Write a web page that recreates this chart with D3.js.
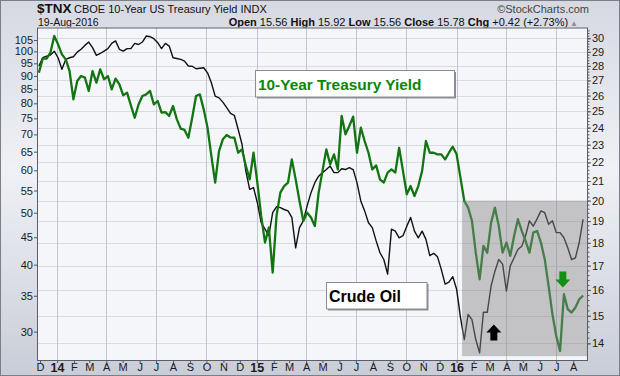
<!DOCTYPE html>
<html>
<head>
<meta charset="utf-8">
<script src="https://cdn.jsdelivr.net/npm/d3@7"></script>
<style>
  body { margin: 0; background: #fff; }
  svg { display: block; font-family: "Liberation Sans", Arial, sans-serif; }
</style>
</head>
<body>
<svg id="chart" width="620" height="376"></svg>
<script>
//
// Data (weekly closes)
//

// one point per Friday, 29-Nov-2013 .. 19-Aug-2016
var weeks = d3.timeFriday.range(new Date(2013, 10, 29), new Date(2016, 7, 20))

// crude oil ($WTIC), left axis
var oil = [
  93.9, 97.3, 98.0, 98.4, 100.1, 97.3, 92.6, 96.6, 97.3, 97.7,
  99.7, 100.9, 102.6, 104.1, 101.6, 98.3, 99.1, 100.1, 101.2, 103.5,
  104.6, 100.9, 100.1, 101.2, 101.2, 103.5, 103.0, 104.1, 106.8, 106.5,
  105.6, 103.8, 101.2, 103.5, 102.3, 97.3, 97.0, 96.6, 95.9, 93.9,
  93.8, 92.8, 93.0, 93.2, 91.2, 87.4, 82.5, 81.9, 80.4, 78.5,
  76.6, 76.0, 71.5, 67.1, 59.8, 55.3, 55.7, 52.2, 47.9, 46.6,
  45.3, 50.0, 51.3, 51.1, 50.7, 50.4, 49.0, 43.0, 46.9, 48.3,
  51.5, 54.5, 56.9, 58.5, 59.4, 60.2, 61.1, 59.4, 59.4, 60.4,
  60.2, 60.7, 60.2, 56.9, 52.6, 50.4, 47.9, 46.9, 44.3, 42.1,
  40.9, 38.4, 46.6, 46.2, 44.9, 45.3, 47.2, 49.0, 46.2, 44.9,
  46.2, 44.6, 41.6, 42.0, 41.4, 39.2, 36.8, 37.1, 38.0, 36.0,
  31.9, 29.0, 32.3, 31.6, 29.0, 27.4, 32.6, 32.6, 36.5, 38.9,
  40.9, 40.1, 35.7, 39.8, 41.2, 42.7, 43.3, 45.3, 48.3, 47.2,
  48.7, 50.4, 50.0, 47.6, 48.3, 45.9, 45.9, 44.9, 43.0, 40.9,
  41.2, 44.0, 48.6
]

// $TNX (10-year yield x10), right axis
var tnx = [
  27.53, 28.53, 28.51, 28.94, 30.17, 29.55, 28.82, 28.46, 27.64, 25.76,
  26.96, 27.30, 27.19, 26.30, 27.64, 26.85, 27.76, 27.08, 27.30, 26.41,
  27.12, 26.74, 26.01, 26.19, 25.37, 24.60, 25.43, 25.97, 26.08, 26.30,
  25.43, 25.65, 24.91, 24.95, 24.71, 25.33, 24.50, 23.94, 23.86, 23.40,
  24.60, 25.97, 26.08, 25.12, 24.00, 22.36, 20.92, 22.63, 23.31, 23.56,
  23.42, 23.40, 22.54, 22.73, 21.81, 21.09, 22.54, 20.92, 19.25, 18.01,
  18.70, 16.71, 19.25, 20.40, 20.74, 20.92, 22.17, 21.09, 19.98, 19.01,
  19.41, 19.17, 18.77, 20.40, 21.54, 22.73, 21.90, 22.45, 21.62, 24.71,
  23.60, 24.10, 24.67, 22.54, 24.00, 23.21, 22.54, 21.62, 21.84, 21.09,
  20.92, 21.45, 21.62, 21.45, 22.82, 21.54, 20.32, 20.74, 20.23, 20.74,
  21.54, 23.21, 22.54, 22.54, 22.45, 22.45, 22.17, 22.54, 22.88, 22.45,
  21.18, 19.98, 19.65, 19.01, 17.56, 16.43, 17.86, 17.56, 18.93, 19.65,
  18.77, 17.56, 18.01, 17.42, 18.31, 19.09, 18.54, 18.08, 17.56, 18.46,
  18.54, 18.01, 17.27, 16.16, 15.06, 14.26, 13.74, 15.83, 15.25, 15.12,
  15.31, 15.63, 15.78
]

// axis ticks
var oilTicks = [30, 35, 40, 45, 50, 55, 60, 65, 70, 75, 80, 85, 90, 95, 100, 105]
var tnxTicks = [14, 15, 16, 17, 18, 19, 20, 21, 22, 23, 24, 25, 26, 27, 28, 29, 30]
var monthLetters = ['J', 'F', 'M', 'A', 'M', 'J', 'J', 'A', 'S', 'O', 'N', 'D']

// annotations
var shadeStart = new Date(2016, 0, 11)
var shadeTop = 20
var upArrow = { date: new Date(2016, 2, 9), value: 14.1 }
var downArrow = { date: new Date(2016, 6, 13), value: 16.1 }

//
// Configuration
//

var W = 620, H = 376
var plot = { l: 37, t: 27.5, r: 588, b: 360 }
var colorOil = '#111'
var colorYield = '#127512'
var colorGrid = '#d9dbe3'
var colorVGrid = '#c3c6d0'

//
// Scales
//

var svg = d3.select('#chart')

var x = d3.scaleTime()
  .domain([new Date(2013, 10, 25, 12), new Date(2016, 7, 28)])
  .range([plot.l, plot.r])

var yOil = d3.scaleLog()
  .domain([26.56, 110.8])
  .range([plot.b, plot.t])

var yTnx = d3.scaleLog()
  .domain([13.43, 30.82])
  .range([plot.b, plot.t])

//
// Background + header
//

var defs = svg.append('defs')
var grad = defs.append('linearGradient').attr('id', 'bg')
  .attr('x1', 0).attr('y1', 0).attr('x2', 0).attr('y2', 1)
grad.append('stop').attr('offset', '0%').attr('stop-color', '#d6d9e2')
grad.append('stop').attr('offset', '45%').attr('stop-color', '#eff1f6')
grad.append('stop').attr('offset', '100%').attr('stop-color', '#c9cdd7')

defs.append('clipPath').attr('id', 'clip')
  .append('rect')
  .attr('x', plot.l).attr('y', plot.t)
  .attr('width', plot.r - plot.l).attr('height', plot.b - plot.t)

svg.append('rect')
  .attr('x', 0.5).attr('y', 0.5).attr('width', W - 1).attr('height', H - 1)
  .attr('fill', 'url(#bg)').attr('stroke', '#7a7f8a')

svg.append('text')
  .attr('x', 37).attr('y', 13)
  .attr('font-size', 13.5).attr('font-weight', 'bold').attr('fill', '#111')
  .text('$TNX')
svg.append('text')
  .attr('x', 74).attr('y', 13)
  .attr('font-size', 11).attr('fill', '#111')
  .text('CBOE 10-Year US Treasury Yield INDX')
svg.append('text')
  .attr('x', 38).attr('y', 25.5)
  .attr('font-size', 10.5).attr('fill', '#111')
  .text('19-Aug-2016')
svg.append('text')
  .attr('x', 589).attr('y', 13).attr('text-anchor', 'end')
  .attr('font-size', 11).attr('fill', '#444')
  .text('\u00a9StockCharts.com')

var ohlc = svg.append('text')
  .attr('x', 578).attr('y', 25.5).attr('text-anchor', 'end')
  .attr('font-size', 11).attr('fill', '#111')
var parts = [['Open', ' 15.56 '], ['High', ' 15.92 '], ['Low', ' 15.56 '], ['Close', ' 15.78 '], ['Chg', ' +0.42 (+2.73%)']]
parts.forEach(function(p) {
  ohlc.append('tspan').attr('font-weight', 'bold').text(p[0])
  ohlc.append('tspan').text(p[1])
})
ohlc.append('tspan').attr('fill', '#8a8f9a').attr('font-size', 8).attr('dx', 2).text('\u25b2')

//
// Plot area + grid
//

svg.append('rect')
  .attr('x', plot.l).attr('y', plot.t)
  .attr('width', plot.r - plot.l).attr('height', plot.b - plot.t)
  .attr('fill', '#f5f6fa')

svg.append('g')
  .selectAll('line')
  .data(tnxTicks)
  .enter()
  .append('line')
  .attr('x1', plot.l).attr('x2', plot.r)
  .attr('y1', function(d) { return Math.round(yTnx(d)) + 0.5 })
  .attr('y2', function(d) { return Math.round(yTnx(d)) + 0.5 })
  .attr('stroke', colorGrid)

var months = d3.timeMonth.range(x.domain()[0], x.domain()[1])
var quarters = months.filter(function(d) { return d.getMonth() % 3 === 0 })

svg.append('g')
  .selectAll('line')
  .data(quarters)
  .enter()
  .append('line')
  .attr('x1', function(d) { return Math.round(x(d)) + 0.5 })
  .attr('x2', function(d) { return Math.round(x(d)) + 0.5 })
  .attr('y1', plot.t).attr('y2', plot.b)
  .attr('stroke', colorVGrid)

//
// Lines
//

var lines = svg.append('g').attr('clip-path', 'url(#clip)')

var oilLine = d3.line()
  .x(function(d, i) { return x(weeks[i]) })
  .y(function(d) { return yOil(d) })

var tnxLine = d3.line()
  .x(function(d, i) { return x(weeks[i]) })
  .y(function(d) { return yTnx(d) })

lines.append('path')
  .datum(oil)
  .attr('d', oilLine)
  .attr('fill', 'none')
  .attr('stroke', colorOil)
  .attr('stroke-width', 1.4)
  .attr('stroke-linejoin', 'round')

lines.append('path')
  .datum(tnx)
  .attr('d', tnxLine)
  .attr('fill', 'none')
  .attr('stroke', colorYield)
  .attr('stroke-width', 2.3)
  .attr('stroke-linejoin', 'round')

//
// Annotations
//

svg.append('rect')
  .attr('x', x(shadeStart)).attr('y', yTnx(shadeTop))
  .attr('width', plot.r - x(shadeStart))
  .attr('height', yTnx(13.56) - yTnx(shadeTop))
  .attr('fill', '#878789')
  .attr('opacity', 0.46)

function arrow(cx, tipY, dir, color) {
  // block arrow, 15 wide, 16 tall
  var hw = 7.5, sw = 3.5, head = 8, len = 16
  var s = dir // -1 points up, 1 points down
  var pts = [
    [cx, tipY],
    [cx + hw, tipY - s * head],
    [cx + sw, tipY - s * head],
    [cx + sw, tipY - s * len],
    [cx - sw, tipY - s * len],
    [cx - sw, tipY - s * head],
    [cx - hw, tipY - s * head]
  ]
  svg.append('polygon')
    .attr('points', pts.map(function(p) { return p.join(',') }).join(' '))
    .attr('fill', color)
}

arrow(x(upArrow.date), yTnx(upArrow.value) - 16, -1, '#000')
arrow(x(downArrow.date), yTnx(downArrow.value), 1, '#139013')

function labelBox(x0, y0, w, h, label, color, size) {
  svg.append('rect')
    .attr('x', x0 + 2).attr('y', y0 + 2).attr('width', w).attr('height', h)
    .attr('fill', '#8d8f95')
  svg.append('rect')
    .attr('x', x0 + 0.5).attr('y', y0 + 0.5).attr('width', w).attr('height', h)
    .attr('fill', '#fff').attr('stroke', '#8a8c92')
  svg.append('text')
    .attr('x', x0 + 3).attr('y', y0 + h - 7)
    .attr('font-size', size).attr('font-weight', 'bold').attr('fill', color)
    .text(label)
}

labelBox(255, 70, 199, 26.5, '10-Year Treasury Yield', '#0a860a', 15.4)
labelBox(326, 282, 100.5, 26.5, 'Crude Oil', '#000', 16)

//
// Axes
//

var leftAxis = svg.append('g')
  .attr('transform', 'translate(' + plot.l + ',0)')
  .call(d3.axisLeft(yOil).tickValues(oilTicks).tickSize(3).tickPadding(1).tickFormat(d3.format('d')))
var rightAxis = svg.append('g')
  .attr('transform', 'translate(' + plot.r + ',0)')
  .call(d3.axisRight(yTnx).tickValues(tnxTicks).tickSize(3).tickPadding(1).tickFormat(d3.format('d')))
var minorAxis = svg.append('g')
  .attr('transform', 'translate(' + plot.r + ',0)')
  .call(d3.axisRight(yTnx).tickValues(d3.range(14, 30.8, 0.2)).tickSize(1.5).tickFormat(''))
var bottomAxis = svg.append('g')
  .attr('transform', 'translate(0,' + plot.b + ')')
  .call(d3.axisBottom(x).tickValues(months).tickSize(3).tickPadding(0)
    .tickFormat(function(d) {
      return d.getMonth() === 0 ? d3.timeFormat('%y')(d) : monthLetters[d.getMonth()]
    }))

;[leftAxis, rightAxis, minorAxis, bottomAxis].forEach(function(a) {
  a.select('.domain').remove()
  a.attr('font-family', null).attr('font-size', 11)
  a.selectAll('line').attr('stroke', '#555')
  a.selectAll('text').attr('fill', '#1a1a1a')
})
bottomAxis.selectAll('text')
  .filter(function(d) { return d.getMonth() === 0 })
  .attr('font-weight', 'bold').attr('font-size', 12.5)

// frame
svg.append('rect')
  .attr('x', plot.l + 0.5).attr('y', plot.t + 0.5)
  .attr('width', plot.r - plot.l - 1).attr('height', plot.b - plot.t)
  .attr('fill', 'none').attr('stroke', '#5a5e68')
</script>
</body>
</html>
